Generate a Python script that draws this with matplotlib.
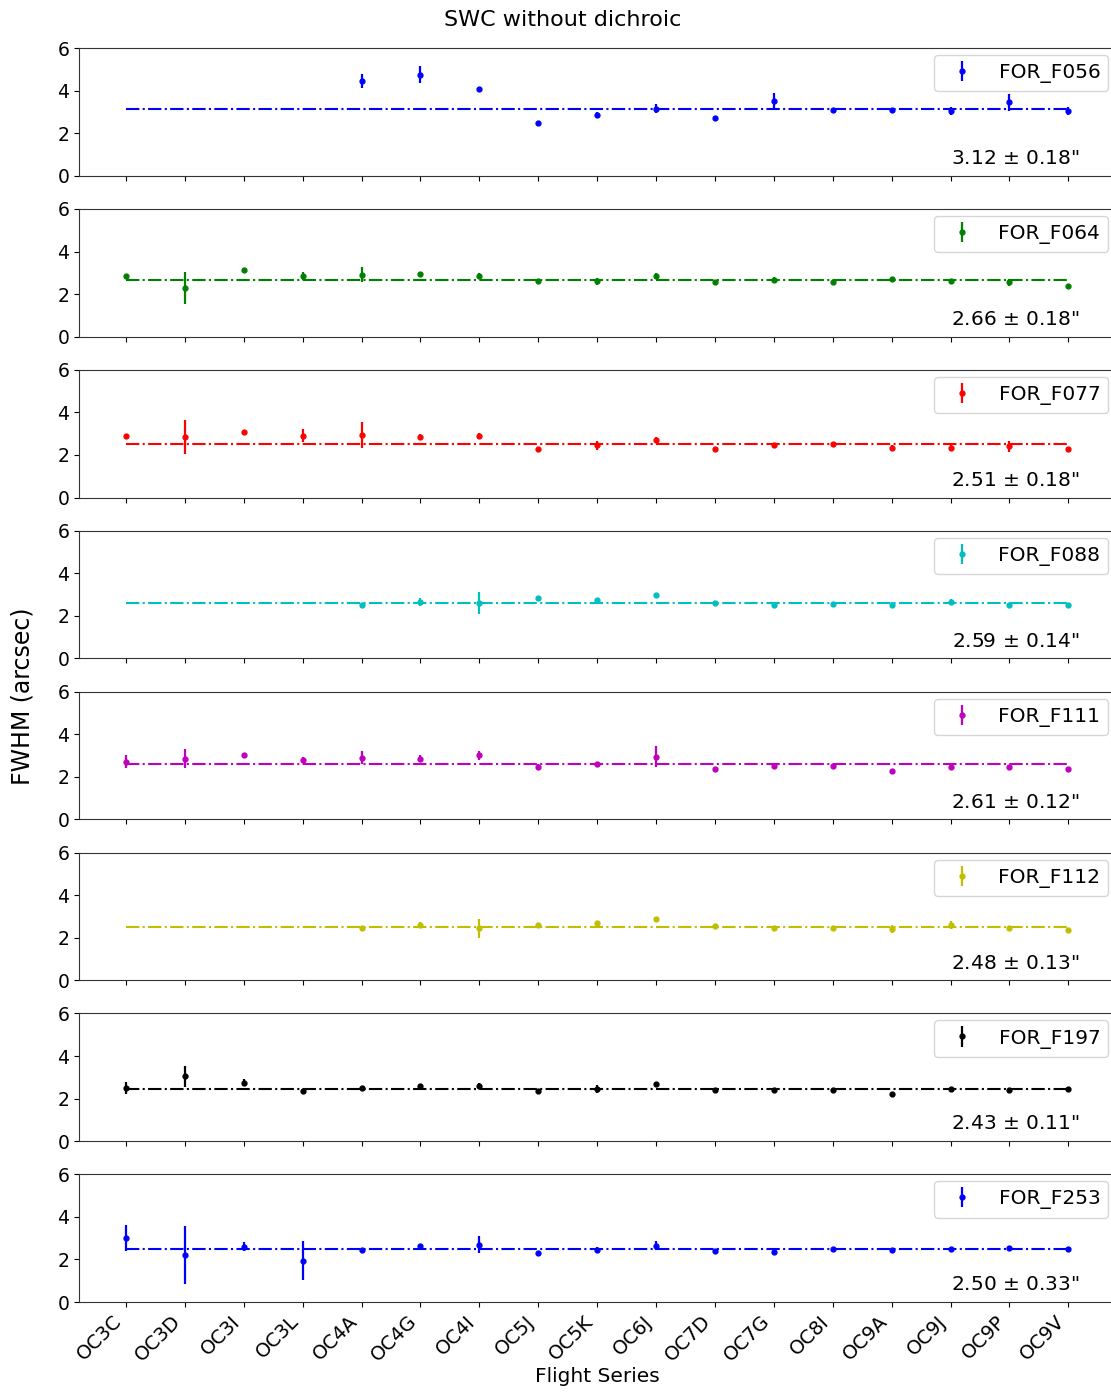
import numpy as np
import matplotlib
matplotlib.use('Agg')
import matplotlib.pyplot as plt

flights = ['OC3C', 'OC3D', 'OC3I', 'OC3L', 'OC4A', 'OC4G', 'OC4I', 'OC5J', 'OC5K',
           'OC6J', 'OC7D', 'OC7G', 'OC8I', 'OC9A', 'OC9J', 'OC9P', 'OC9V']

filters = ['FOR_F056', 'FOR_F064', 'FOR_F077', 'FOR_F088',
           'FOR_F111', 'FOR_F112', 'FOR_F197', 'FOR_F253']
colors = ['b', 'g', 'r', 'c', 'm', 'y', 'k', 'b']

nan = np.nan
# FWHM per flight (arcsec), nan = no data
f056 = [nan, nan, nan, nan, 4.45, 4.75, 4.08, 2.47, 2.85, 3.15, 2.70, 3.50, 3.10, 3.10, 3.05, 3.45, 3.05]
f064 = [2.85, 2.30, 3.15, 2.85, 2.90, 2.95, 2.85, 2.60, 2.60, 2.85, 2.55, 2.65, 2.55, 2.70, 2.62, 2.55, 2.40]
f077 = [2.90, 2.85, 3.10, 2.90, 2.95, 2.85, 2.90, 2.30, 2.45, 2.70, 2.30, 2.45, 2.50, 2.35, 2.35, 2.40, 2.30]
f088 = [nan, nan, nan, nan, 2.50, 2.65, 2.60, 2.85, 2.75, 3.00, 2.60, 2.50, 2.55, 2.50, 2.65, 2.50, 2.50]
f111 = [2.70, 2.85, 3.00, 2.80, 2.90, 2.85, 3.00, 2.45, 2.60, 2.95, 2.35, 2.50, 2.50, 2.25, 2.45, 2.45, 2.35]
f112 = [nan, nan, nan, nan, 2.45, 2.60, 2.45, 2.60, 2.70, 2.90, 2.55, 2.45, 2.45, 2.40, 2.60, 2.45, 2.35]
f197 = [2.50, 3.05, 2.75, 2.35, 2.50, 2.60, 2.60, 2.35, 2.45, 2.70, 2.40, 2.40, 2.40, 2.20, 2.45, 2.40, 2.45]
f253 = [3.00, 2.20, 2.60, 1.95, 2.45, 2.65, 2.70, 2.30, 2.45, 2.65, 2.40, 2.35, 2.50, 2.45, 2.50, 2.55, 2.50]

# errors
e056 = [nan, nan, nan, nan, 0.35, 0.40, 0.05, 0.05, 0.15, 0.20, 0.10, 0.40, 0.05, 0.08, 0.20, 0.40, 0.20]
e064 = [0.05, 0.75, 0.05, 0.20, 0.35, 0.10, 0.15, 0.05, 0.15, 0.15, 0.05, 0.15, 0.05, 0.05, 0.10, 0.15, 0.05]
e077 = [0.05, 0.80, 0.05, 0.30, 0.60, 0.15, 0.15, 0.05, 0.20, 0.15, 0.05, 0.10, 0.05, 0.10, 0.10, 0.25, 0.05]
e088 = [nan, nan, nan, nan, 0.10, 0.20, 0.50, 0.05, 0.05, 0.05, 0.10, 0.05, 0.05, 0.15, 0.15, 0.10, 0.05]
e111 = [0.30, 0.45, 0.05, 0.15, 0.30, 0.15, 0.20, 0.15, 0.10, 0.50, 0.05, 0.05, 0.05, 0.10, 0.05, 0.10, 0.05]
e112 = [nan, nan, nan, nan, 0.05, 0.15, 0.45, 0.05, 0.05, 0.05, 0.10, 0.05, 0.05, 0.20, 0.20, 0.05, 0.05]
e197 = [0.30, 0.50, 0.15, 0.05, 0.10, 0.10, 0.15, 0.05, 0.20, 0.10, 0.05, 0.05, 0.05, 0.10, 0.05, 0.10, 0.10]
e253 = [0.60, 1.35, 0.20, 0.90, 0.05, 0.05, 0.40, 0.05, 0.15, 0.20, 0.05, 0.05, 0.05, 0.05, 0.05, 0.10, 0.05]

means = [3.12, 2.66, 2.51, 2.59, 2.61, 2.48, 2.43, 2.50]
stds = [0.18, 0.18, 0.18, 0.14, 0.12, 0.13, 0.11, 0.33]

vals = [f056, f064, f077, f088, f111, f112, f197, f253]
errs = [e056, e064, e077, e088, e111, e112, e197, e253]

plt.rcParams['font.size'] = 13

fig, axes = plt.subplots(8, 1, sharex=True, figsize=(11.11, 13.93), dpi=100)
fig.subplots_adjust(left=0.071, right=1.004, top=0.9655, bottom=0.0653, hspace=0.26)

x = np.arange(len(flights))
for i, ax in enumerate(axes):
    ax.errorbar(x, vals[i], yerr=errs[i], fmt='.', color=colors[i],
                label=filters[i], markersize=7, elinewidth=1.6)
    ax.plot(x, np.full(len(x), means[i]), '-.', color=colors[i], lw=1.5)
    ax.set_ylim(0, 6)
    ax.set_yticks([0, 2, 4, 6])
    ax.set_xlim(-0.8, 16.8)
    ax.tick_params(axis='y', labelsize=13.5)
    ax.legend(loc='upper right', fontsize=14.5, borderaxespad=0.35)
    ax.text(0.965, 0.06, '%.2f $\\pm$ %.2f"' % (means[i], stds[i]),
            transform=ax.transAxes, ha='right', va='bottom', fontsize=14.5)
    for s in ['left', 'bottom', 'top', 'right']:
        ax.spines[s].set_color('#333333')

axes[-1].set_xticks(x)
axes[-1].set_xticklabels(flights, rotation=45, ha='right', fontsize=14)
axes[-1].set_xlabel('Flight Series', fontsize=14.5, labelpad=1)
fig.text(563 / 1111, 1 - 20 / 1393, 'SWC without dichroic', ha='center', va='center', fontsize=16)
fig.text(0.02, 0.5, 'FWHM (arcsec)', rotation=90, va='center', ha='center', fontsize=17)

plt.savefig('out.png')
